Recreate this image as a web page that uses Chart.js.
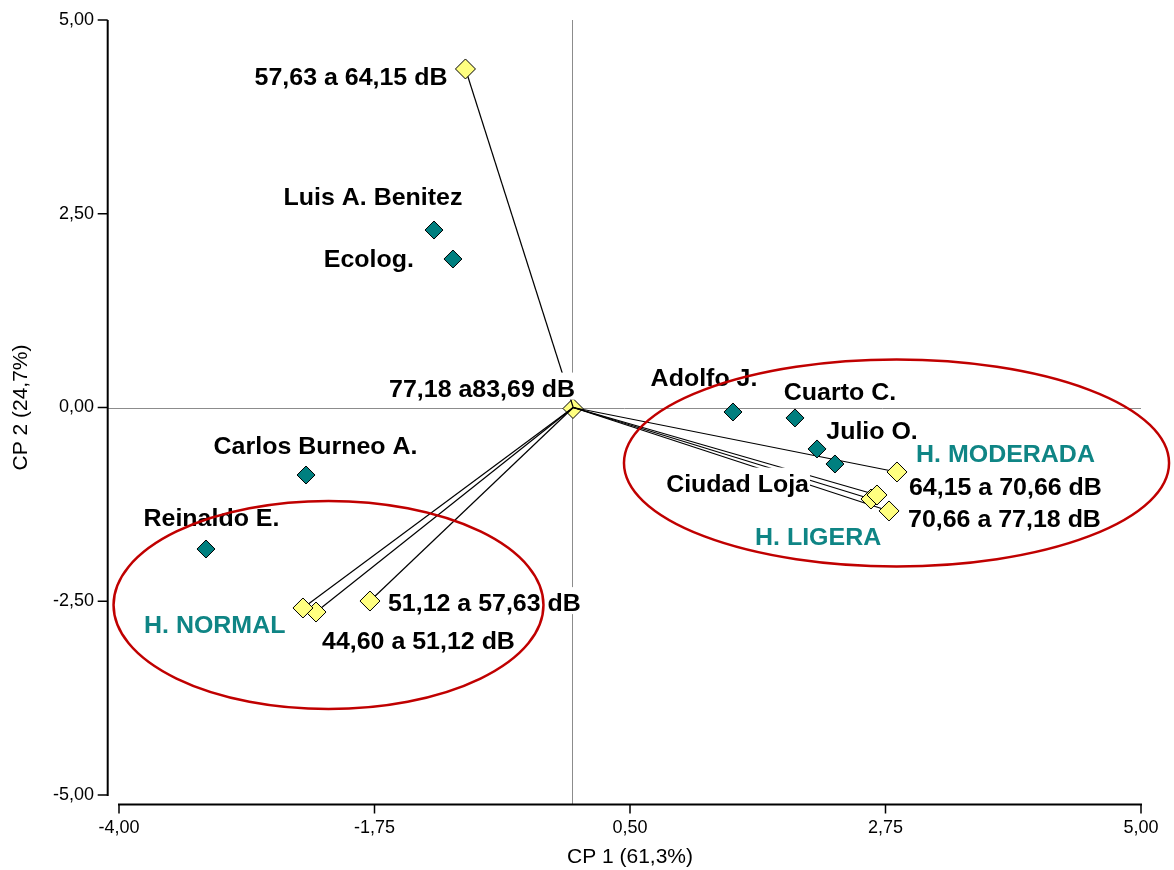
<!DOCTYPE html>
<html>
<head>
<meta charset="utf-8">
<title>CP1 vs CP2 – niveles de ruido y sitios</title>
<script src="https://cdn.jsdelivr.net/npm/chart.js@4.4.1/dist/chart.umd.min.js"></script>
<style>
  html, body { margin: 0; padding: 0; background: #ffffff; }
  #c { display: block; }
</style>
</head>
<body>
<canvas id="c" width="1174" height="870"></canvas>
<script>
// ---- Sites (scores on CP1 / CP2) ----
const siteNames = ['Luis A. Benitez', 'Ecolog.', 'Carlos Burneo A.', 'Reinaldo E.',
                   'Adolfo J.', 'Cuarto C.', 'Julio O.', 'Ciudad Loja'];
const siteCP1 = [-1.226, -1.059, -2.353, -3.234, 1.407, 1.953, 2.147, 2.305];
const siteCP2 = [ 2.290,  1.916, -0.871, -1.826, -0.058, -0.135, -0.535, -0.729];

// ---- Noise-level classes (first one sits at the origin) ----
const levelNames = ['77,18 a83,69 dB', '57,63 a 64,15 dB', '51,12 a 57,63 dB', '44,60 a 51,12 dB',
                    '', '64,15 a 70,66 dB', '70,66 a 77,18 dB', '', ''];
const levelCP1 = [-0.002, -0.949, -1.790, -2.265, -2.380, 2.851, 2.781, 2.622, 2.675];
const levelCP2 = [-0.013,  4.368, -2.497, -2.639, -2.587, -0.832, -1.335, -1.181, -1.129];

// ---- Hearing groups: label anchor and enclosing ellipse ----
const groupNames = ['H. NORMAL', 'H. MODERADA', 'H. LIGERA'];
const groupCP1 = [-3.780, 3.019, 1.601];
const groupCP2 = [-2.794, -0.587, -1.658];
const ellipseCX = [-2.155, 2.847];
const ellipseCY = [-2.548, -0.716];
const ellipseRX = [1.893, 2.400];
const ellipseRY = [1.342, 1.335];

// ---- Axis ticks ----
const xTickValues = [-4.00, -1.75, 0.50, 2.75, 5.00];
const yTickValues = [-5.00, -2.50, 0.00, 2.50, 5.00];

// ---- Label placement (pixel offsets from each marker) ----
const siteLabelPos = [
  { dx: -61, dy: -33.5, align: 'center' },
  { dx: -39, dy: -1,    align: 'right'  },
  { dx: 9.5, dy: -30,   align: 'center' },
  { dx: 5.5, dy: -31.5, align: 'center' },
  { dx: -29, dy: -35,   align: 'center' },
  { dx: 45,  dy: -27,   align: 'center' },
  { dx: 55,  dy: -19,   align: 'center' },
  { dx: -26, dy: 19,    align: 'right'  }
];
const levelLabelPos = [
  { dx: 2,   dy: -20.5, align: 'right' },
  { dx: -18, dy: 7.5,   align: 'right' },
  { dx: 18,  dy: 1.5,   align: 'left'  },
  { dx: 6,   dy: 28.5,  align: 'left'  },
  null,
  { dx: 12,  dy: 14,    align: 'left'  },
  { dx: 19,  dy: 7.5,   align: 'left'  },
  null,
  null
];

const FONT = '"Liberation Sans", Arial, Helvetica, sans-serif';
const TEAL = '#007f7f';
const GROUP_TEAL = '#0f8585';
const YELLOW = '#ffff80';
const RED = '#c00000';
const LABEL_SIZE = 24;
const LABEL_STRETCH = 1.04;

const fmt = v => Number(v).toFixed(2).replace('.', ',');

// ---- Datasets ----
const datasets = [];

// hub marker (drawn beneath the vectors)
datasets.push({
  kind: 'hub',
  data: [{ x: levelCP1[0], y: levelCP2[0] }],
  pointStyle: 'rectRot', pointRadius: 10, pointHoverRadius: 10,
  backgroundColor: YELLOW, borderColor: '#000', borderWidth: 1,
  order: 10
});

// vectors from the origin to each noise class
for (let i = 1; i < levelCP1.length; i++) {
  datasets.push({
    kind: 'vector',
    type: 'line',
    data: [{ x: 0, y: 0 }, { x: levelCP1[i], y: levelCP2[i] }],
    borderColor: '#000', borderWidth: 1.2,
    pointRadius: 0, fill: false, tension: 0,
    order: 5
  });
}

// noise-class markers
datasets.push({
  kind: 'levels',
  data: levelCP1.slice(1).map((x, i) => ({ x, y: levelCP2[i + 1] })),
  pointStyle: 'rectRot', pointRadius: 10, pointHoverRadius: 10,
  backgroundColor: YELLOW, borderColor: '#000', borderWidth: 1,
  order: 2
});

// site markers
datasets.push({
  kind: 'sites',
  data: siteCP1.map((x, i) => ({ x, y: siteCP2[i] })),
  pointStyle: 'rectRot', pointRadius: 9, pointHoverRadius: 9,
  backgroundColor: TEAL, borderColor: '#000', borderWidth: 1,
  order: 1
});

const nVectors = datasets.filter(d => d.kind === 'vector').length;

// ---- Text helpers ----
function labelBox(ctx, text, px, py, align, size, stretch) {
  ctx.font = `bold ${size}px ${FONT}`;
  const w = ctx.measureText(text).width * stretch;
  const base = py + 0.358 * size;
  let left = px;
  if (align === 'center') left = px - w / 2;
  else if (align === 'right') left = px - w;
  return { left, width: w, base, top: base - 1.0 * size, bottom: base + 3 };
}

function drawLabel(ctx, text, px, py, align, color, size, stretch) {
  const b = labelBox(ctx, text, px, py, align, size, stretch);
  ctx.save();
  ctx.font = `bold ${size}px ${FONT}`;
  ctx.fillStyle = color;
  ctx.textAlign = 'left';
  ctx.textBaseline = 'alphabetic';
  ctx.translate(b.left, b.base);
  ctx.scale(stretch, 1);
  ctx.fillText(text, 0, 0);
  ctx.restore();
}

function allLabels(chart) {
  const xs = chart.scales.x, ys = chart.scales.y;
  const out = [];
  siteNames.forEach((t, i) => {
    const p = siteLabelPos[i];
    out.push({ text: t, x: xs.getPixelForValue(siteCP1[i]) + p.dx,
               y: ys.getPixelForValue(siteCP2[i]) + p.dy, align: p.align, color: '#000' });
  });
  levelNames.forEach((t, i) => {
    const p = levelLabelPos[i];
    if (!t || !p) return;
    out.push({ text: t, x: xs.getPixelForValue(levelCP1[i]) + p.dx,
               y: ys.getPixelForValue(levelCP2[i]) + p.dy, align: p.align, color: '#000' });
  });
  groupNames.forEach((t, i) => {
    out.push({ text: t, x: xs.getPixelForValue(groupCP1[i]),
               y: ys.getPixelForValue(groupCP2[i]), align: 'left', color: GROUP_TEAL });
  });
  return out;
}

// ---- Frame, reference lines, label backgrounds, labels and ellipses ----
let vectorsDrawn = 0;
const biplotDecor = {
  id: 'biplotDecor',
  beforeDatasetsDraw(chart) {
    vectorsDrawn = 0;
    const ctx = chart.ctx, xs = chart.scales.x, ys = chart.scales.y, a = chart.chartArea;
    const axisX = a.left - 11.3;     // detached vertical axis
    const axisY = a.bottom + 9.5;    // detached horizontal axis
    ctx.save();
    // reference lines through the origin
    ctx.strokeStyle = '#8c8c8c';
    ctx.lineWidth = 1;
    const x0 = Math.round(xs.getPixelForValue(0)) - 0.5;
    const y0 = Math.round(ys.getPixelForValue(0)) + 0.5;
    ctx.beginPath();
    ctx.moveTo(x0, a.top); ctx.lineTo(x0, axisY);
    ctx.moveTo(axisX, y0); ctx.lineTo(a.right, y0);
    ctx.stroke();
    // axis lines
    ctx.strokeStyle = '#000';
    ctx.lineWidth = 2;
    ctx.beginPath();
    ctx.moveTo(axisX, ys.getPixelForValue(yTickValues[yTickValues.length - 1]));
    ctx.lineTo(axisX, ys.getPixelForValue(yTickValues[0]) + 1);
    ctx.moveTo(xs.getPixelForValue(xTickValues[0]) - 1, axisY);
    ctx.lineTo(xs.getPixelForValue(xTickValues[xTickValues.length - 1]) + 1, axisY);
    ctx.stroke();
    // tick marks
    ctx.lineWidth = 1.5;
    ctx.beginPath();
    yTickValues.forEach(v => {
      const py = ys.getPixelForValue(v);
      ctx.moveTo(axisX - 10, py); ctx.lineTo(axisX, py);
    });
    xTickValues.forEach(v => {
      const px = xs.getPixelForValue(v);
      ctx.moveTo(px, axisY); ctx.lineTo(px, axisY + 9);
    });
    ctx.stroke();
    ctx.restore();
  },
  afterDatasetDraw(chart, args) {
    const ds = chart.data.datasets[args.index];
    if (ds.kind !== 'vector') return;
    vectorsDrawn++;
    if (vectorsDrawn !== nVectors) return;
    // white label backgrounds cover the vectors behind the text
    const ctx = chart.ctx;
    ctx.save();
    ctx.fillStyle = '#ffffff';
    allLabels(chart).forEach(l => {
      const b = labelBox(ctx, l.text, l.x, l.y, l.align, LABEL_SIZE, LABEL_STRETCH);
      ctx.fillRect(b.left - 1, b.top, b.width + 2, b.bottom - b.top);
    });
    ctx.restore();
  },
  afterDatasetsDraw(chart) {
    const ctx = chart.ctx, xs = chart.scales.x, ys = chart.scales.y;
    allLabels(chart).forEach(l =>
      drawLabel(ctx, l.text, l.x, l.y, l.align, l.color, LABEL_SIZE, LABEL_STRETCH));
    // group ellipses
    ctx.save();
    ctx.strokeStyle = RED;
    ctx.lineWidth = 2.5;
    ellipseCX.forEach((cx, i) => {
      const px = xs.getPixelForValue(cx), py = ys.getPixelForValue(ellipseCY[i]);
      const rx = Math.abs(xs.getPixelForValue(cx + ellipseRX[i]) - px);
      const ry = Math.abs(ys.getPixelForValue(ellipseCY[i] + ellipseRY[i]) - py);
      ctx.beginPath();
      ctx.ellipse(px, py, rx, ry, 0, 0, Math.PI * 2);
      ctx.stroke();
    });
    ctx.restore();
  }
};

// scale boxes: fixed size, no extra edge padding from tick labels
function fixBox(size, horizontal) {
  return s => {
    if (horizontal) s.height = size; else s.width = size;
    s.paddingTop = 0; s.paddingBottom = 0; s.paddingLeft = 0; s.paddingRight = 0;
  };
}

new Chart(document.getElementById('c').getContext('2d'), {
  type: 'scatter',
  data: { datasets },
  options: {
    responsive: false,
    animation: false,
    events: [],
    layout: { padding: { top: 20, right: 33, bottom: 0, left: 0 } },
    plugins: { legend: { display: false }, tooltip: { enabled: false } },
    scales: {
      x: {
        type: 'linear', min: -4, max: 5,
        afterBuildTicks: s => { s.ticks = xTickValues.map(v => ({ value: v })); },
        afterFit: fixBox(75, true),
        grid: { display: false }, border: { display: false },
        ticks: { padding: 14, autoSkip: false, maxRotation: 0, color: '#000',
                 font: { family: FONT, size: 18 }, callback: v => fmt(v) },
        title: { display: true, text: 'CP 1 (61,3%)', color: '#000',
                 font: { family: FONT, size: 21 }, padding: { top: 0, bottom: 0 } }
      },
      y: {
        type: 'linear', min: -5, max: 5,
        afterBuildTicks: s => { s.ticks = yTickValues.map(v => ({ value: v })); },
        afterFit: fixBox(119, false),
        grid: { display: false }, border: { display: false },
        ticks: { padding: 17, autoSkip: false, color: '#000',
                 font: { family: FONT, size: 18 }, callback: v => fmt(v) },
        title: { display: true, text: 'CP 2 (24,7%)', color: '#000',
                 font: { family: FONT, size: 21 }, padding: { top: 9, bottom: 0 } }
      }
    }
  },
  plugins: [biplotDecor]
});
</script>
</body>
</html>
